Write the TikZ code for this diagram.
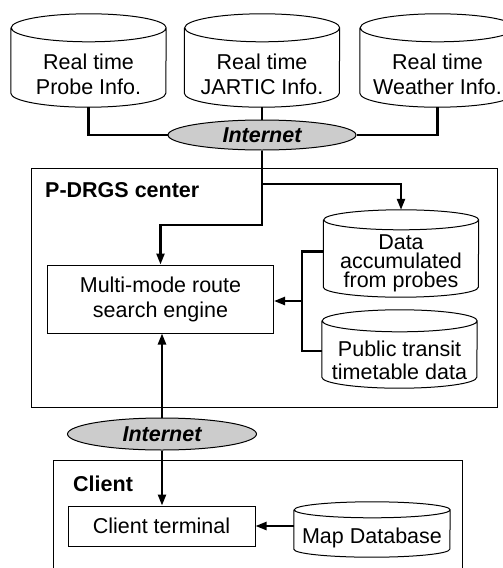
\documentclass[tikz,border=0pt]{standalone}
\usepackage{fontspec}
\setmainfont{Liberation Sans}
\usetikzlibrary{shapes.geometric,arrows.meta}
\tikzset{
  every node/.style={font=\fontsize{21.5}{25}\selectfont},
  store/.style={inner sep=0pt, minimum width=155pt, align=center},
  box/.style={draw, line width=1pt, inner sep=0pt, align=center},
  zone/.style={draw, line width=1pt, inner sep=0pt},
  title/.style={anchor=base west, inner sep=0pt, font=\fontsize{21.5}{25}\selectfont\bfseries},
  net/.style={ellipse, draw, line width=1pt, fill=gray!40, inner sep=0pt,
    minimum width=188pt, minimum height=30pt,
    font=\fontsize{21.5}{25}\selectfont\bfseries\itshape},
  link/.style={line width=2.3pt},
  arr/.style={link, -{Triangle[length=11pt,width=8pt]}},
}
% cylinder round a node: name, x radius, y radius
\newcommand{\drum}[3]{%
  \draw[line width=1pt] ([yshift=#3]#1.north west) -- ([yshift=#3]#1.south west)
    arc (180:360:#2 and #3) -- ([yshift=#3]#1.north east)
    arc (0:360:#2 and #3);}
\begin{document}
\begin{tikzpicture}[x=1pt,y=-1pt]
  \useasboundingbox (0,0) rectangle (503,568);
  %fuentes
  \node[store, minimum height=65pt] (probe) at (88.5,74.5) {Real time\\Probe Info.};
  \node[store, minimum height=65pt] (jartic) at (262,74.5) {Real time\\JARTIC Info.};
  \node[store, minimum height=65pt] (weather) at (437.5,74.5) {Real time\\Weather Info.};
  \drum{probe}{77.5pt}{14pt}
  \drum{jartic}{77.5pt}{14pt}
  \drum{weather}{77.5pt}{14pt}
  \node[net] (net1) at (262,135) {Internet};
  %centro
  \node[zone, minimum width=466pt, minimum height=239pt] (center) at (264,287.5) {};
  \node[title] (centertitle) at (45,197) {P-DRGS center};
  \node[box, minimum width=226pt, minimum height=68pt] (engine) at (160.5,299) {Multi-mode route\\search engine};
  \node[store, minimum height=67pt, font=\fontsize{21.5}{19}\selectfont] (accum) at (401,263.5) {Data\\accumulated\\from probes};
  \node[store, minimum height=56pt, font=\fontsize{21.5}{23}\selectfont] (transit) at (399.5,360) {Public transit\\timetable data};
  \drum{accum}{77.5pt}{10pt}
  \drum{transit}{77.5pt}{11pt}
  \node[net, minimum width=189pt, minimum height=32pt] (net2) at (162,434) {Internet};
  %cliente
  \node[zone, minimum width=409pt, minimum height=140pt] (client) at (257.5,530) {};
  \node[title] (clienttitle) at (73,491) {Client};
  \node[box, minimum width=187pt, minimum height=40pt] (terminal) at (161.5,526) {Client terminal};
  \node[store, minimum width=156pt, minimum height=39pt] (mapdb) at (372,537.5) {Map Database};
  \drum{mapdb}{78pt}{8pt}
  %conexiones
  \draw[link] (probe.south) |- (net1.west);
  \draw[link] (jartic.south) -- (jartic.south |- net1.north);
  \draw[link] (weather.south) |- (net1.east);
  \coordinate (split) at (262,184);
  \coordinate (bend) at (262,225);
  \coordinate (accumtop) at ([yshift=20pt]accum.north);
  \coordinate (joint) at (302,301);
  \draw[arr] (net1.south) -- (bend) -| (engine.north);
  \draw[arr] (split) -| (accumtop);
  \draw[link] ([yshift=12pt]accum.west) -| (joint) |- ([yshift=9pt]transit.west);
  \draw[arr] (joint) -- (joint -| engine.east);
  \draw[arr] (net2.north) -- (net2.north |- engine.south);
  \draw[arr] (net2.south) -- (net2.south |- terminal.north);
  \draw[arr] (mapdb.west |- terminal.east) -- (terminal.east);
\end{tikzpicture}
\end{document}
